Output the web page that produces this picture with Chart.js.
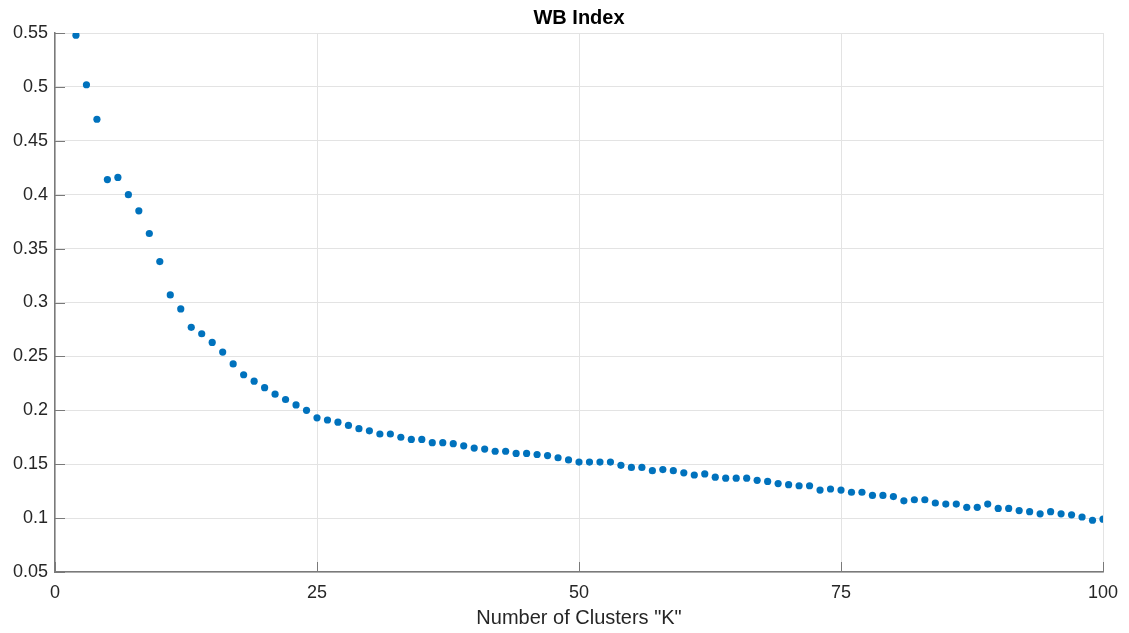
<!DOCTYPE html>
<html lang="en">

<head>
  <meta charset="UTF-8">
  <title>WB Index</title>
  <script src="https://cdn.jsdelivr.net/npm/chart.js@4.4.0/dist/chart.umd.min.js"></script>
</head>

<body style="margin:0;background:#fff">
  <div style="width:1129px;height:633px">
    <canvas id="myChart"></canvas>
  </div>
  <script>
    // number of clusters K = 2..100
    const clusters = [];
    for (let k = 2; k <= 100; k++) clusters.push(k);

    // WB index, one per K
    const wbIndex = [
      0.548, 0.502, 0.470, 0.414, 0.416, 0.400, 0.385, 0.364, 0.338,        // 2-10
      0.307, 0.294, 0.277, 0.271, 0.263, 0.254, 0.243, 0.233, 0.227, 0.221,  // 11-20
      0.215, 0.210, 0.205, 0.200, 0.193, 0.191, 0.189, 0.186, 0.183, 0.181,  // 21-30
      0.178, 0.178, 0.175, 0.173, 0.173, 0.170, 0.170, 0.169, 0.167, 0.165,  // 31-40
      0.164, 0.162, 0.162, 0.160, 0.160, 0.159, 0.158, 0.156, 0.154, 0.152,  // 41-50
      0.152, 0.152, 0.152, 0.149, 0.147, 0.147, 0.144, 0.145, 0.144, 0.142,  // 51-60
      0.140, 0.141, 0.138, 0.137, 0.137, 0.137, 0.135, 0.134, 0.132, 0.131,  // 61-70
      0.130, 0.130, 0.126, 0.127, 0.126, 0.124, 0.124, 0.121, 0.121, 0.120,  // 71-80
      0.116, 0.117, 0.117, 0.114, 0.113, 0.113, 0.110, 0.110, 0.113, 0.109,  // 81-90
      0.109, 0.107, 0.106, 0.104, 0.106, 0.104, 0.103, 0.101, 0.098, 0.099   // 91-100
    ];

    const xTicks = [0, 25, 50, 75, 100];
    const yTicks = [0.05, 0.1, 0.15, 0.2, 0.25, 0.3, 0.35, 0.4, 0.45, 0.5, 0.55];

    const font = 'Arial, "Liberation Sans", Helvetica, sans-serif';

    // matlab style: title over the plot area, short ticks pointing inward
    const matlabAxes = {
      id: 'matlabAxes',
      afterDraw(chart) {
        const { ctx, chartArea: a, scales: { x, y } } = chart;
        ctx.save();
        ctx.strokeStyle = '#7a7a7a';
        ctx.lineWidth = 1;
        ctx.beginPath();
        xTicks.forEach(v => {
          const px = Math.round(x.getPixelForValue(v)) + 0.5;
          ctx.moveTo(px, a.bottom);
          ctx.lineTo(px, a.bottom - 10);
        });
        yTicks.forEach(v => {
          const py = Math.round(y.getPixelForValue(v)) + 0.5;
          ctx.moveTo(a.left, py);
          ctx.lineTo(a.left + 10, py);
        });
        ctx.stroke();
        ctx.fillStyle = '#000';
        ctx.font = 'bold 20px ' + font;
        ctx.textAlign = 'center';
        ctx.textBaseline = 'middle';
        ctx.fillText('WB Index', (a.left + a.right) / 2, 18);
        ctx.restore();
      }
    };

    const data = {
      datasets: [{
        label: 'WB Index',
        data: clusters.map((k, i) => ({ x: k, y: wbIndex[i] })),
        backgroundColor: '#0072BD',
        borderColor: '#0072BD',
        pointRadius: 3.6,
        pointBorderWidth: 0,
        showLine: false,
      }]
    };

    const config = {
      type: 'scatter',
      data,
      options: {
        responsive: true,
        maintainAspectRatio: false,
        animation: false,
        layout: { padding: { top: 33, right: 26, left: 0, bottom: 0 } },
        plugins: {
          legend: { display: false },
          tooltip: { enabled: false },
        },
        scales: {
          x: {
            type: 'linear',
            min: 0,
            max: 100,
            afterBuildTicks: s => { s.ticks = xTicks.map(v => ({ value: v })); },
            afterFit: s => { s.height = 61; },
            grid: { color: '#e3e3e3', drawTicks: false },
            border: { color: '#7a7a7a', width: 1.5 },
            ticks: { padding: 10, color: '#262626', font: { family: font, size: 18 } },
            title: {
              display: true,
              text: 'Number of Clusters "K"',
              color: '#262626',
              font: { family: font, size: 20 },
              padding: { top: 0, bottom: 3 },
            },
          },
          y: {
            type: 'linear',
            min: 0.05,
            max: 0.55,
            afterBuildTicks: s => { s.ticks = yTicks.map(v => ({ value: v })); },
            afterFit: s => { s.width = 55; },
            grid: { color: '#e3e3e3', drawTicks: false },
            border: { color: '#7a7a7a', width: 1.5 },
            ticks: {
              padding: 7,
              color: '#262626',
              font: { family: font, size: 18 },
              callback: v => String(Math.round(v * 100) / 100),
            },
          },
        },
      },
      plugins: [matlabAxes],
    };

    new Chart(document.getElementById('myChart'), config);
  </script>

</body>

</html>
